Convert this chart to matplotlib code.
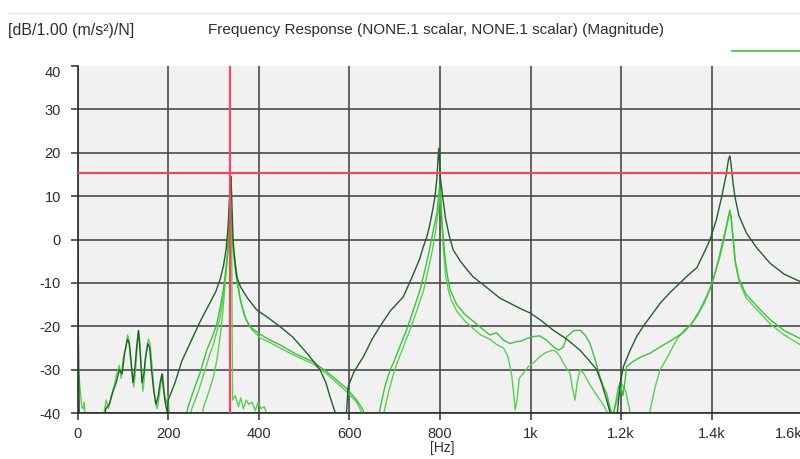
import matplotlib
matplotlib.use("Agg")
import matplotlib.pyplot as plt
from matplotlib.lines import Line2D

plt.rcParams['font.family'] = ['Liberation Sans', 'DejaVu Sans']

# frequency response magnitude, three reference points and one short low-band run
dark_f = [0, 2, 4, 55, 62, 70, 78, 85, 92, 98, 104, 110, 114, 118, 122, 126, 130, 134, 138,
          142, 146, 150, 155, 159, 163, 168, 173, 178, 182, 186, 190, 194, 198, 200, 215, 230,
          250, 270, 290, 305, 315, 322, 328, 332, 335, 337, 338.5, 340, 343, 347, 351, 360, 375,
          395, 420, 447, 475, 506, 520, 535, 548, 557, 568, 575, 583, 594, 597, 610, 631, 650,
          667, 690, 719, 741, 755, 763, 771, 778, 785, 789, 793, 796, 797, 799, 801, 804, 812,
          820, 829, 845, 860, 873, 900, 932, 960, 977, 1000, 1021, 1050, 1080, 1109, 1130, 1146,
          1158, 1168, 1175, 1183, 1192, 1198, 1205, 1220, 1234, 1250, 1270, 1286, 1308, 1330,
          1350, 1367, 1381, 1396, 1410, 1422, 1432, 1437, 1440, 1443, 1447, 1451, 1460, 1477,
          1500, 1529, 1560, 1610]
dark_db = [-3, -28, -45, -45, -39, -38, -35, -33, -30, -31, -26, -23, -24, -28, -33, -30, -25,
           -21, -26, -33, -31, -27, -24, -25, -30, -35, -38, -36, -33, -31, -35, -38, -40, -37,
           -33, -28, -23.5, -19, -15, -12, -9, -6, -2, 3, 9, 13, 14.5, 10, 0, -5, -8.6, -11,
           -13.5, -16.2, -18, -20.1, -22.5, -26.2, -28, -30, -33, -36.2, -39.7, -43, -46, -39.3,
           -34, -30.5, -27, -23, -20.1, -16.5, -13.2, -8, -4.5, -1.7, 0.6, 3.7, 7.5, 10, 14, 19,
           21, 18, 14, 11.4, 5, 1, -2.4, -5, -7, -8.6, -10.8, -13.5, -15, -15.9, -17, -18.5,
           -20.9, -23, -25.5, -28, -30, -33.5, -37, -39.7, -45, -39.5, -33, -29.3, -25.5, -22.4,
           -19.8, -17, -14.7, -12.2, -10, -8, -6.5, -3.5, -0.1, 4.5, 9.9, 15, 18.5, 19.3, 17, 13,
           9.9, 5.5, 1.4, -2, -5.5, -8, -10.4]

light1_f = [230, 244, 257, 270, 285, 297, 307, 314, 321, 327, 331, 334, 336, 338, 340, 342, 344,
            350, 358, 368, 380, 402, 425, 447, 480, 520, 550, 572, 595, 616, 630, 640, 660, 667,
            678, 690, 697, 712, 726, 742, 756, 768, 778, 786, 793, 797, 799, 801, 803, 806, 810,
            815, 822, 837, 855, 873, 890, 910, 925, 940, 955, 970, 977, 992, 1006, 1020, 1035,
            1050, 1062, 1072, 1080, 1095, 1109, 1120, 1131, 1142, 1153, 1161, 1168, 1176, 1182,
            1188, 1194, 1198, 1204, 1208, 1212, 1228, 1245, 1264, 1290, 1310, 1337, 1355, 1374,
            1389, 1403, 1414, 1425, 1432, 1437, 1440, 1443, 1447, 1452, 1460, 1475, 1492, 1510,
            1529, 1560, 1610]
light1_db = [-45, -38.5, -34.5, -30.8, -25.5, -22.5, -19.5, -16, -12, -7, -3, 2, 5.5, 7.5, 5, 0,
             -2.5, -7, -13.2, -17.5, -20.1, -21.8, -23.2, -24.3, -26.3, -28.2, -30.5, -32.4,
             -34.5, -37, -39.3, -44, -44, -39.3, -34, -30, -28.5, -24.5, -20.9, -16, -11.6, -6.5,
             -1.7, 2.5, 6, 10, 12.5, 10, 6, 2, -3, -7.5, -11.5, -15, -17.3, -18.8, -20.3, -22,
             -21.5, -23.2, -24, -23.5, -23.5, -22.8, -22.4, -22.2, -23.2, -24.7, -25.5, -24.8,
             -22.4, -21, -20.9, -22, -23.9, -27.5, -31.6, -34, -35.5, -39, -41, -37.5, -34, -33,
             -36, -33, -29.3, -28, -27, -26.2, -24.5, -23.3, -21.5, -19.5, -16.2, -13, -9.3, -5,
             -0.1, 3, 5.5, 6.8, 5, 0.5, -5, -9, -12.5, -14.5, -16.5, -18.5, -21, -23.6]

light2_f = [240, 252, 265, 277, 290, 300, 309, 316, 322, 327, 331, 334, 336, 338, 340, 342, 345,
            352, 360, 372, 385, 402, 425, 447, 480, 520, 550, 572, 595, 616, 628, 640, 672, 677,
            688, 700, 705, 720, 735, 750, 764, 775, 784, 791, 796, 799, 801, 803, 805, 808, 812,
            818, 825, 837, 855, 873, 890, 910, 925, 940, 950, 958, 963, 966, 970, 975, 984, 995,
            1006, 1020, 1035, 1050, 1058, 1065, 1075, 1087, 1092, 1098, 1103, 1109, 1118, 1128,
            1140, 1150, 1160, 1170, 1176, 1182, 1190, 1197, 1203, 1210, 1216, 1222, 1240, 1258,
            1264, 1275, 1286, 1300, 1323, 1340, 1352, 1367, 1382, 1396, 1408, 1418, 1427, 1433,
            1437, 1440, 1443, 1447, 1452, 1460, 1475, 1492, 1510, 1529, 1560, 1610]
light2_db = [-45, -39, -35.5, -31.5, -27, -24, -20.5, -17, -12.5, -8, -3.5, 1, 4, 5.5, 3.5, -1,
             -4, -10, -14.5, -18.5, -20.8, -22.6, -23.8, -25, -26.8, -28.7, -31, -33, -35.2,
             -37.5, -40, -45, -45, -39.5, -34.5, -30, -28.5, -24.5, -20.5, -16, -11.6, -6.5, -2,
             2.5, 6.5, 9.5, 11, 7, 2, -3, -8, -11.5, -14, -16.5, -18.8, -20.5, -22, -23, -24.2,
             -25, -27, -31, -36, -39.3, -37, -32, -30.8, -29.3, -28.5, -27, -26, -25.5, -26, -27,
             -29, -30.8, -34, -37, -33, -30, -31, -33, -35, -36.5, -38, -40, -42, -40, -37.5, -35,
             -33.5, -35, -38, -41, -45, -45, -39.3, -34, -30, -27.5, -23, -20.8, -19.8, -17.8,
             -15, -11.6, -7.5, -4, 0, 3, 5, 6.3, 4.5, 0, -5.5, -9.5, -13.3, -15.3, -17.3, -19.5,
             -22, -25.2]

light3_f = [0, 1, 2, 5, 9, 12, 14, 17, 20, 50, 58, 63, 68, 74, 80, 86, 92, 96, 101, 106, 110,
            113, 116, 120, 124, 128, 132, 135, 137, 140, 144, 147, 151, 156, 160, 164, 168, 172,
            176, 180, 184, 188, 191, 195, 199, 203, 207, 270, 277, 290, 300, 307, 315, 321, 325,
            329, 332, 335, 338, 340, 341, 342, 348, 355, 360, 366, 372, 378, 385, 392, 398, 405,
            412, 418, 422]
light3_db = [-8, -20, -30, -34, -38.5, -39, -37.5, -41, -46, -46, -40, -37, -39, -36, -34, -31,
             -29, -32, -27, -25, -22, -23, -27, -31, -34, -30, -24, -21, -23, -29, -35, -32, -26,
             -23, -24, -29, -34, -38, -39, -36, -33, -31, -35, -38, -36, -41, -46, -46, -39, -35,
             -31.5, -28, -22, -16, -11, -6, -1, 3, 4.5, 0, -20, -37, -36, -38.5, -36.5, -39, -37,
             -38, -37.5, -39.5, -37.5, -39, -38.5, -40.5, -46]

cursor_x = 337
cursor_y = 15.4

x_ticks = [0, 200, 400, 600, 800, 1000, 1200, 1400, 1600]
x_labels = ['0', '200', '400', '600', '800', '1k', '1.2k', '1.4k', '1.6k']
y_ticks = [-40, -30, -20, -10, 0, 10, 20, 30, 40]
y_labels = ['-40', '-30', '-20', '-10', '0', '10', '20', '30', '40']

dark_green = '#245f2a'
light_green = '#3cc23c'
light_green2 = '#5ccf52'
cursor_red = '#f4465c'
grid_grey = '#4a4a4a'
text_grey = '#2e2e2e'

fig = plt.figure(figsize=(8, 4.59), dpi=100)
ax = fig.add_axes([0.0971, 0.1002, 0.9115, 0.756])
ax.set_facecolor('#f1f1f1')

ax.plot(light3_f, light3_db, color=light_green2, lw=1.0)
ax.plot(light2_f, light2_db, color=light_green2, lw=1.0)
ax.plot(light1_f, light1_db, color=light_green, lw=1.0)
ax.plot(dark_f, dark_db, color=dark_green, lw=1.0)

ax.axvline(cursor_x, color=cursor_red, lw=1.6, zorder=5)
ax.axhline(cursor_y, color=cursor_red, lw=1.6, zorder=5)

ax.set_xlim(0, 1610)
ax.set_ylim(-40, 40)
ax.set_xticks(x_ticks, x_labels)
ax.set_yticks(y_ticks, y_labels)
ax.set_axisbelow(True)
ax.grid(color=grid_grey, lw=1.2)
# no line along the top edge, top label kept inside
ax.yaxis.get_major_ticks()[-1].gridline.set_visible(False)
ax.yaxis.get_major_ticks()[-1].label1.set_verticalalignment('top')
# last x label pulled left so it stays mostly on the canvas
ax.xaxis.get_major_ticks()[-1].label1.set_horizontalalignment('right')

ax.tick_params(direction='out', length=5, width=1.1, color=text_grey,
               labelsize=10.5, labelcolor=text_grey)
ax.tick_params(axis='y', pad=7)
ax.tick_params(axis='x', pad=5)
for side in ['top', 'right']:
    ax.spines[side].set_visible(False)
for side in ['left', 'bottom']:
    ax.spines[side].set_color(text_grey)
    ax.spines[side].set_linewidth(1.2)

ax.set_xlabel('[Hz]', fontsize=10, color=text_grey, labelpad=0)

fig.text(0.01, 0.9346, '[dB/1.00 (m/s²)/N]', fontsize=11.5, color=text_grey,
         ha='left', va='center')
fig.text(0.5456, 0.9346, 'Frequency Response (NONE.1 scalar, NONE.1 scalar) (Magnitude)',
         fontsize=11, color=text_grey, ha='center', va='center')
fig.add_artist(Line2D([0.01, 1.0], [0.972, 0.972], color='#e4e4e4', lw=1.0))

fig.legend(handles=[Line2D([], [], color=light_green, lw=1.2)], labels=[''],
           loc='center left', bbox_to_anchor=(0.915, 0.887), frameon=False,
           handlelength=6, borderpad=0, borderaxespad=0, handletextpad=0)

fig.savefig('out.png', dpi=100)
